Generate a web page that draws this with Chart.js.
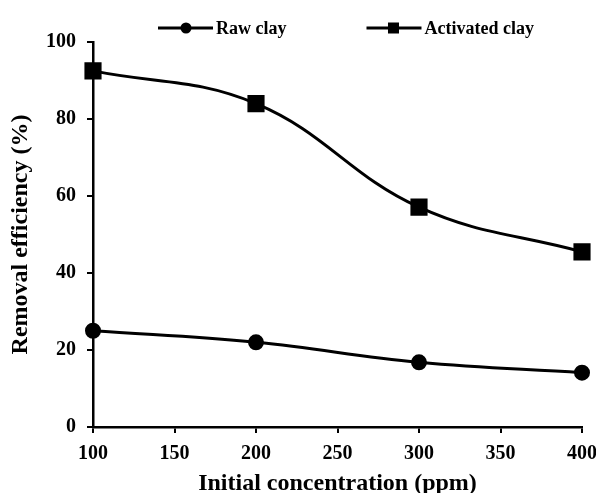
<!DOCTYPE html>
<html><head><meta charset="utf-8">
<script src="https://cdn.jsdelivr.net/npm/chart.js@4.4.0/dist/chart.umd.min.js"></script>
<style>html,body{margin:0;padding:0;background:#fff}#wrap{width:596px;height:493px}</style>
</head><body><div id="wrap"><canvas id="c" width="596" height="493"></canvas></div>
<script>
const concentrations = [100, 200, 300, 400];
const rawClay = [25.0, 22.0, 16.8, 14.1];
const activatedClay = [92.5, 84.0, 57.1, 45.5];
const seriesNames = ['Raw clay', 'Activated clay'];
const xTitle = 'Initial concentration (ppm)';
const yTitle = 'Removal efficiency (%)';
const font = 'Liberation Serif, Times New Roman, serif';

// Legend drawn as line + marker icon followed by bold text
const lineLegend = {
  id: 'lineLegend',
  afterDraw(chart) {
    const ctx = chart.ctx;
    const area = chart.chartArea;
    let x = area.left + 65;
    const y = 28;
    ctx.save();
    ctx.font = 'bold 18px ' + font;
    ctx.textBaseline = 'middle';
    ctx.fillStyle = '#000';
    ctx.strokeStyle = '#000';
    chart.data.datasets.forEach((d) => {
      ctx.lineWidth = 3;
      ctx.beginPath(); ctx.moveTo(x, y); ctx.lineTo(x + 55, y); ctx.stroke();
      if (d.pointStyle === 'circle') {
        ctx.beginPath(); ctx.arc(x + 28, y, 5.5, 0, Math.PI * 2); ctx.fill();
      } else {
        ctx.fillRect(x + 27 - 5.5, y - 5.5, 11, 11);
      }
      x += 58;
      ctx.fillText(d.label, x, y + 1);
      x += ctx.measureText(d.label).width + 80;
    });
    ctx.restore();
  }
};

new Chart(document.getElementById('c'), {
  type: 'line',
  data: {
    datasets: [
      { label: seriesNames[0], data: concentrations.map((x, i) => ({x, y: rawClay[i]})),
        borderColor: '#000', backgroundColor: '#000', borderWidth: 3, tension: 0.4, clip: false,
        pointStyle: 'circle', pointRadius: 6.5, pointHoverRadius: 6.5 },
      { label: seriesNames[1], data: concentrations.map((x, i) => ({x, y: activatedClay[i]})),
        borderColor: '#000', backgroundColor: '#000', borderWidth: 3, tension: 0.4, clip: false,
        pointStyle: 'rect', pointRadius: 10, pointHoverRadius: 10 }
    ]
  },
  options: {
    responsive: false, animation: false,
    layout: { padding: { left: 9, right: 14, top: 42, bottom: -3 } },
    plugins: {
      tooltip: { enabled: false },
      legend: { display: false }
    },
    scales: {
      x: {
        type: 'linear', min: 100, max: 400,
        afterFit: (s) => { s.paddingRight = 0; },
        ticks: { stepSize: 50, color: '#000', font: { family: font, weight: 'bold', size: 20, lineHeight: 1 }, padding: 11 },
        grid: { drawOnChartArea: false, color: '#000', lineWidth: 2, tickLength: 6 },
        border: { color: '#000', width: 2.5 },
        title: { display: true, text: xTitle, color: '#000', font: { family: font, weight: 'bold', size: 24, lineHeight: 1 }, padding: { top: -3, bottom: 0 } }
      },
      y: {
        min: 0, max: 100,
        ticks: { stepSize: 20, color: '#000', font: { family: font, weight: 'bold', size: 20 }, padding: 11 },
        grid: { drawOnChartArea: false, color: '#000', lineWidth: 2, tickLength: 6 },
        border: { color: '#000', width: 2.5 },
        title: { display: true, text: yTitle, color: '#000', font: { family: font, weight: 'bold', size: 24, lineHeight: 1 }, padding: { top: 0, bottom: 2 } }
      }
    }
  },
  plugins: [lineLegend]
});
</script></body></html>
